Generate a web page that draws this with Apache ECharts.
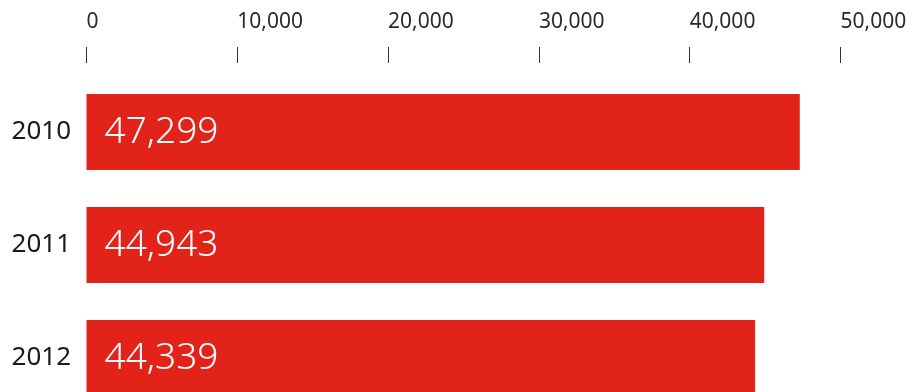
<!DOCTYPE html>
<html lang="en">
<head>
    <meta charset="UTF-8">
    <title>Bar chart</title>
    <script src="https://cdn.jsdelivr.net/npm/echarts@6/dist/echarts.min.js"></script>
    <style>
        html, body { margin: 0; padding: 0; background: #fff; }
        #chart { width: 912px; height: 392px; }
    </style>
</head>
<body>
<div id="chart"></div>
<script type="text/javascript">
    var years = ['2010', '2011', '2012'];
    var values = [47299, 44943, 44339];
    var axisMin = 0;
    var axisMax = 50000;
    var axisStep = 10000;

    function commas(v) {
        return String(v).replace(/\B(?=(\d{3})+(?!\d))/g, ',');
    }

    var font = '"Noto Sans", "Liberation Sans", sans-serif';
    var weight = 300;
    var myChart = echarts.init(document.getElementById('chart'));
    var option = {
        animation: false,
        grid: { left: 86.5, top: 75.5, width: 754, height: 339, outerBoundsMode: 'none', containLabel: false },
        xAxis: {
            type: 'value',
            position: 'top',
            offset: 12.5,
            min: axisMin,
            max: axisMax,
            interval: axisStep,
            axisLine: { show: false },
            axisTick: { show: true, length: 16, lineStyle: { color: '#333', width: 1 } },
            splitLine: { show: false },
            axisLabel: {
                fontFamily: font,
                fontWeight: 400,
                fontSize: 21,
                color: '#2a2a2a',
                align: 'left',
                margin: 30,
                formatter: function (v) { return commas(v); }
            }
        },
        yAxis: {
            type: 'category',
            data: years,
            inverse: true,
            axisLine: { show: false },
            axisTick: { show: false },
            axisLabel: { fontFamily: font, fontWeight: 400, fontSize: 26, color: '#1a1a1a', margin: 15.5 }
        },
        series: [{
            type: 'bar',
            data: values,
            barWidth: 76,
            itemStyle: { color: '#e2231a' },
            label: {
                show: true,
                position: 'insideLeft',
                distance: 18,
                color: '#fff',
                fontFamily: font,
                fontWeight: weight,
                fontSize: 37,
                formatter: function (p) { return commas(p.value); }
            }
        }]
    };
    myChart.setOption(option);
</script>
</body>
</html>
